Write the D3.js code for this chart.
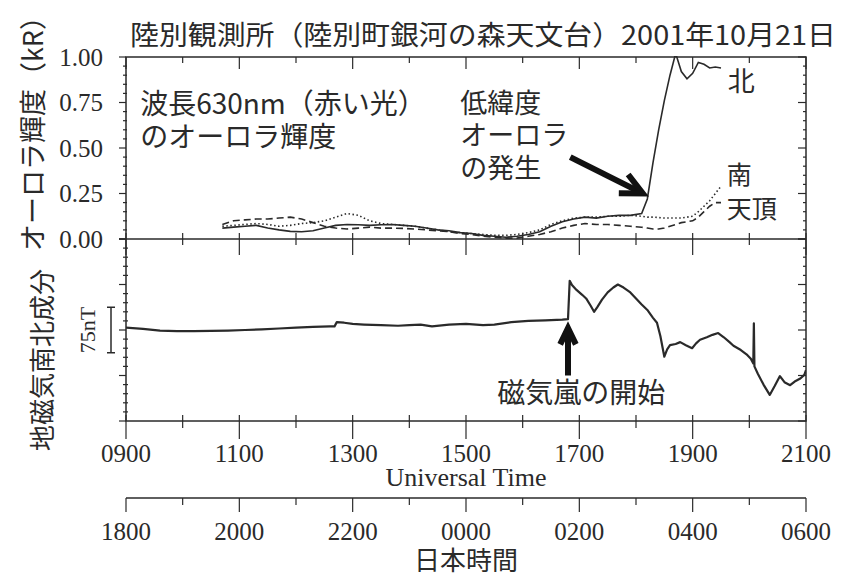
<!DOCTYPE html>
<html>
<head>
<meta charset="utf-8">
<script src="https://cdn.jsdelivr.net/npm/d3@7.9.0/dist/d3.min.js"></script>
<style>
  body { margin: 0; background: #fff; }
  .jp { font-family: "Noto Sans CJK JP", sans-serif; fill: #2a2a2a; }
  .num { font-family: "Liberation Serif", serif; fill: #2a2a2a; }
</style>
</head>
<body>
<svg id="chart" width="846" height="576"></svg>
<script>
// aurora brightness (kR), UT hours
const auroraT = [10.7,10.9,11.1,11.3,11.5,11.7,11.9,12.1,12.3,12.5,12.7,12.9,13.1,13.3,13.5,13.7,13.9,14.1,14.3,14.5,14.7,14.9,15.1,15.3,15.5,15.7,15.9,16.1,16.3,16.5,16.7,16.9,17.1,17.3,17.5,17.7,17.9,18.1,18.2,18.3,18.4,18.5,18.6,18.7,18.8,18.9,19.0,19.1,19.2,19.3,19.4,19.5];
const north  = [.06,.065,.07,.075,.06,.05,.042,.04,.045,.06,.075,.08,.078,.075,.078,.08,.075,.07,.06,.05,.045,.035,.03,.02,.015,.01,.015,.025,.04,.07,.095,.11,.12,.115,.125,.13,.13,.14,.22,.42,.60,.76,.90,1.02,.92,.88,.91,.97,.96,.94,.945,.94];
const south  = [.07,.075,.08,.085,.08,.07,.075,.085,.09,.10,.12,.14,.13,.10,.085,.08,.075,.07,.06,.05,.04,.035,.03,.025,.02,.02,.025,.035,.05,.08,.10,.115,.12,.12,.125,.125,.13,.125,.12,.12,.118,.115,.115,.115,.115,.12,.125,.15,.18,.21,.25,.29];
const zenith = [.08,.10,.105,.11,.11,.115,.12,.11,.09,.07,.06,.055,.06,.065,.06,.06,.058,.055,.05,.045,.04,.03,.025,.015,.01,.005,.005,.015,.025,.04,.06,.075,.085,.08,.08,.075,.07,.065,.06,.055,.055,.06,.07,.08,.09,.095,.10,.12,.15,.18,.20,.20];

// geomagnetic H component (nT, relative)
const magT = [9.0,9.3,9.6,9.9,10.2,10.5,10.8,11.1,11.4,11.7,12.0,12.3,12.6,12.68,12.72,12.85,13.0,13.2,13.5,13.8,14.0,14.2,14.4,14.7,15.0,15.3,15.5,15.8,16.1,16.4,16.7,16.8,
  16.83,16.87,16.95,17.05,17.12,17.2,17.26,17.32,17.4,17.5,17.6,17.68,17.78,17.9,18.0,18.1,18.2,18.3,18.37,18.43,18.5,18.55,18.6,18.7,18.78,18.88,18.99,19.06,19.13,19.25,19.35,19.45,19.55,19.65,19.72,19.85,19.95,20.03,20.07,20.08,20.09,20.15,20.25,20.36,20.45,20.54,20.62,20.72,20.8,20.9,20.97,21.0];
const magV = [4,2,-1,-2,-2,-1.5,-1,0,1,2.5,4,5,6,6,13,12,10,9,8,7,8,9,6,9,10,8,9,13,15,16,17,18,
  81,74,66,58,52,40,30,38,50,62,70,75,70,62,52,42,33,20,12,-10,-44,-32,-25,-23,-20,-25,-30,-22,-16,-12,-8,-5,-12,-20,-26,-33,-40,-48,-55,11,-60,-72,-90,-107,-92,-76,-86,-91,-85,-80,-74,-66];

const utTicks = [9, 11, 13, 15, 17, 19, 21];
const utLabels = ['0900','1100','1300','1500','1700','1900','2100'];
const jstLabels = ['1800','2000','2200','0000','0200','0400','0600'];
const auroraTicks = [0, 0.25, 0.5, 0.75, 1];

const svg = d3.select('#chart');
const pLeft = 126, pRight = 806, pTop = 57, pMid = 239, pBottom = 421, jstY = 498;

const x = d3.scaleLinear().domain([9, 21]).range([pLeft, pRight]);
const yA = d3.scaleLinear().domain([0, 1]).range([pMid, pTop]);
const yM = d3.scaleLinear().domain([-150, 150]).range([pBottom, pMid]);

const ink = '#2a2a2a';

svg.append('clipPath').attr('id', 'clipA').append('rect')
  .attr('x', pLeft).attr('y', pTop - 1).attr('width', pRight - pLeft).attr('height', pMid - pTop + 1);
svg.append('clipPath').attr('id', 'clipM').append('rect')
  .attr('x', pLeft).attr('y', pMid).attr('width', pRight - pLeft).attr('height', pBottom - pMid);

// frame
svg.append('rect').attr('x', pLeft).attr('y', pTop).attr('width', pRight - pLeft).attr('height', pBottom - pTop)
  .attr('fill', 'none').attr('stroke', ink).attr('stroke-width', 1.5);
svg.append('line').attr('x1', pLeft - 7).attr('x2', pRight).attr('y1', pMid).attr('y2', pMid)
  .attr('stroke', ink).attr('stroke-width', 1.5);

const ticks = svg.append('g').attr('stroke', ink).attr('stroke-width', 1.2);
function tick(x1, y1, x2, y2) { ticks.append('line').attr('x1', x1).attr('y1', y1).attr('x2', x2).attr('y2', y2); }

// hour ticks on horizontal edges
d3.range(9, 22).forEach(h => {
  const px = x(h), major = (h % 2 === 1);
  tick(px, pTop, px, pTop + (major ? 12 : 6));
  tick(px, pMid - 6, px, pMid + (major ? 16 : 6));
  tick(px, pBottom - 6, px, pBottom + (major ? 18 : 7));
  tick(px, jstY, px, jstY + (major ? 14 : 7));
});

// aurora y ticks
d3.range(0, 1.0001, 0.05).forEach(v => {
  const py = yA(v), major = Math.abs(v * 4 - Math.round(v * 4)) < 1e-6;
  tick(pLeft - (major ? 7 : 3), py, pLeft + (major ? 0 : 1), py);
  tick(pRight - (major ? 8 : 3), py, pRight, py);
});
// mag y ticks (75 nT major, 15 nT minor)
d3.range(-150, 150.001, 15).forEach(v => {
  const py = yM(v), major = Math.abs(v / 75 - Math.round(v / 75)) < 1e-6;
  tick(pLeft - (major ? 7 : 3), py, pLeft + (major ? 0 : 2), py);
  tick(pRight - (major ? 8 : 3), py, pRight, py);
});

// JST axis line
svg.append('line').attr('x1', pLeft).attr('x2', pRight).attr('y1', jstY).attr('y2', jstY)
  .attr('stroke', ink).attr('stroke-width', 1.5);

// tick labels
svg.append('g').selectAll('text').data(auroraTicks).join('text')
  .attr('class', 'num').attr('x', pLeft - 23).attr('y', d => yA(d)).attr('dy', '0.35em')
  .attr('text-anchor', 'end').attr('font-size', 25).text(d3.format('.2f'));
svg.append('g').selectAll('text').data(utTicks).join('text')
  .attr('class', 'num').attr('x', d => x(d)).attr('y', 462)
  .attr('text-anchor', 'middle').attr('font-size', 25).text((d, i) => utLabels[i]);
svg.append('g').selectAll('text').data(utTicks).join('text')
  .attr('class', 'num').attr('x', d => x(d)).attr('y', 540)
  .attr('text-anchor', 'middle').attr('font-size', 25).text((d, i) => jstLabels[i]);
svg.append('text').attr('class', 'num').attr('x', x(15)).attr('y', 486)
  .attr('text-anchor', 'middle').attr('font-size', 26).text('Universal Time');
svg.append('text').attr('class', 'jp').attr('x', x(15)).attr('y', 570)
  .attr('text-anchor', 'middle').attr('font-size', 26).text('日本時間');

// titles / axis labels
svg.append('text').attr('class', 'jp').attr('x', 130).attr('y', 45).attr('font-size', 27)
  .attr('textLength', 706).attr('lengthAdjust', 'spacingAndGlyphs')
  .text('陸別観測所（陸別町銀河の森天文台）2001年10月21日');
svg.append('text').attr('class', 'jp').attr('transform', 'translate(43,127) rotate(-90)')
  .attr('text-anchor', 'middle').attr('font-size', 27).text('オーロラ輝度（kR）');
svg.append('text').attr('class', 'jp').attr('transform', 'translate(52,360) rotate(-90)')
  .attr('text-anchor', 'middle').attr('font-size', 26).text('地磁気南北成分');
svg.append('text').attr('class', 'num').attr('transform', 'translate(95,' + yM(0) + ') rotate(-90)')
  .attr('text-anchor', 'middle').attr('font-size', 22).text('75nT');
// 75 nT scale bar
const barX = 111;
const bar = svg.append('g').attr('stroke', ink).attr('stroke-width', 1.5);
bar.append('line').attr('x1', barX).attr('x2', barX).attr('y1', yM(37.5)).attr('y2', yM(-37.5));
bar.append('line').attr('x1', barX - 4).attr('x2', barX + 4).attr('y1', yM(37.5)).attr('y2', yM(37.5));
bar.append('line').attr('x1', barX - 4).attr('x2', barX + 4).attr('y1', yM(-37.5)).attr('y2', yM(-37.5));

// aurora lines
const lineA = d3.line().x((d, i) => x(auroraT[i])).y(d => yA(d));
const gA = svg.append('g').attr('clip-path', 'url(#clipA)').attr('fill', 'none').attr('stroke', ink).attr('stroke-width', 1.6);
gA.append('path').attr('d', lineA(zenith)).attr('stroke-dasharray', '7,4');
gA.append('path').attr('d', lineA(south)).attr('stroke-dasharray', '1.5,2.5');
gA.append('path').attr('d', lineA(north));

// magnetometer line
const lineM = d3.line().x((d, i) => x(magT[i])).y(d => yM(d));
svg.append('g').attr('clip-path', 'url(#clipM)').append('path').attr('d', lineM(magV))
  .attr('fill', 'none').attr('stroke', ink).attr('stroke-width', 2.2).attr('stroke-linejoin', 'round');

// annotations
const jp = (tx, ty, s, size) => svg.append('text').attr('class', 'jp').attr('x', tx).attr('y', ty)
  .attr('font-size', size || 27).text(s);
jp(x(9.25), yA(0.74) + 10, '波長630nm（赤い光）', 28);
jp(x(9.25), yA(0.56) + 10, 'のオーロラ輝度', 28);
jp(x(14.9), yA(0.75) + 10, '低緯度');
jp(x(14.9), yA(0.57) + 10, 'オーロラ');
jp(x(14.9), yA(0.39) + 10, 'の発生');
jp(x(19.62), yA(0.87) + 10, '北', 27);
jp(x(19.6), yA(0.35) + 9, '南', 25);
jp(x(19.6), yA(0.17) + 10, '天頂', 25);
jp(x(15.55), yM(-104) + 10, '磁気嵐の開始', 28);

// arrows
function arrow(t0, v0, t1, v1, ys, head) {
  const x0 = x(t0), y0 = ys(v0), x1 = x(t1), y1 = ys(v1);
  const a = Math.atan2(y1 - y0, x1 - x0), L = head;
  const g = svg.append('g').attr('stroke', '#111').attr('stroke-width', 6).attr('fill', 'none');
  g.append('line').attr('x1', x0).attr('y1', y0).attr('x2', x1 - Math.cos(a) * 3).attr('y2', y1 - Math.sin(a) * 3);
  const p = d3.path();
  p.moveTo(x1 - L * Math.cos(a - 0.45), y1 - L * Math.sin(a - 0.45));
  p.lineTo(x1, y1);
  p.lineTo(x1 - L * Math.cos(a + 0.45), y1 - L * Math.sin(a + 0.45));
  g.append('path').attr('d', p.toString()).attr('stroke-linejoin', 'miter');
}
arrow(16.84, 0.45, 18.12, 0.25, yA, 24);
arrow(16.8, -75, 16.8, 3, yM, 18);
</script>
</body>
</html>
